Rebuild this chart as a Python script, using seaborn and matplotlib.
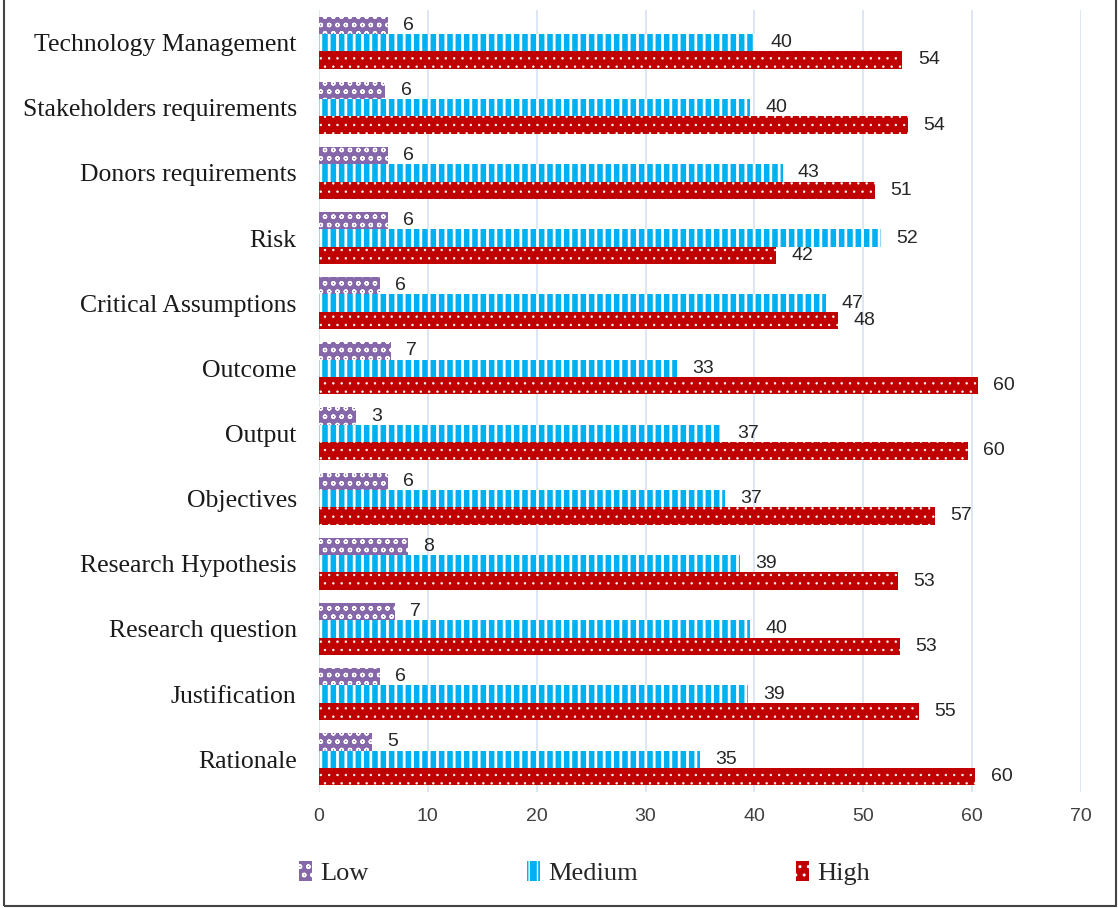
import matplotlib
matplotlib.use("Agg")
import matplotlib.pyplot as plt
import pandas as pd
import seaborn as sns
from matplotlib.patches import Patch, Rectangle

# Survey scores per proposal component, by rating level
categories = [
    "Technology Management", "Stakeholders requirements", "Donors requirements",
    "Risk", "Critical Assumptions", "Outcome", "Output", "Objectives",
    "Research Hypothesis", "Research question", "Justification", "Rationale",
]
low = [6.3, 6.1, 6.3, 6.3, 5.6, 6.6, 3.4, 6.3, 8.2, 7.0, 5.6, 4.9]
medium = [40.1, 39.6, 42.6, 51.6, 46.6, 32.9, 37.0, 37.3, 38.7, 39.6, 39.4, 35.0]
high = [53.6, 54.1, 51.1, 42.0, 47.7, 60.5, 59.6, 56.6, 53.2, 53.4, 55.1, 60.3]
levels = ["Low", "Medium", "High"]
x_ticks = [0, 10, 20, 30, 40, 50, 60, 70]

colors = ["#8567AA", "#00B0F0", "#C00000"]
hatches = ["oo", "||", ".."]
hatch_widths = [0.9, 2.0, 0.5]

df = pd.DataFrame({
    "category": categories * 3,
    "value": low + medium + high,
    "level": [lv for lv in levels for _ in categories],
})

sns.set_style("white")
plt.rcParams["hatch.linewidth"] = 1.0
serif = ["Liberation Serif", "DejaVu Serif"]
sans = ["Liberation Sans", "DejaVu Sans"]


def style_patch(p, hatch, hw):
    p.set_hatch(hatch)
    p.set_edgecolor("white")
    p.set_linewidth(0)
    if hasattr(p, "set_hatch_linewidth"):
        p.set_hatch_linewidth(hw)


fig = plt.figure(figsize=(11.18, 9.08), dpi=100)
ax = fig.add_axes([0.2853, 0.128, 0.6816, 0.861])

sns.barplot(
    data=df, y="category", x="value", hue="level", order=categories,
    hue_order=levels, palette=colors, orient="h", width=0.8,
    saturation=1, errorbar=None, legend=False, ax=ax,
)

for cont, hatch, hw in zip(ax.containers, hatches, hatch_widths):
    for bar in cont:
        style_patch(bar, hatch, hw)
        v = bar.get_width()
        yc = bar.get_y() + bar.get_height() / 2
        ax.annotate(f"{v:.0f}", xy=(v, yc), xytext=(11, 0),
                    textcoords="offset points", ha="left", va="center",
                    fontsize=14, family=sans, color="#262626")

ax.set_xlim(0, 70)
ax.set_xticks(x_ticks)
ax.set_xticklabels([str(t) for t in x_ticks], family=sans, fontsize=14,
                   color="#404040")
ax.set_yticks(range(len(categories)))
ax.set_yticklabels(categories, family=serif, fontsize=18.5, color="#1a1a1a")
ax.tick_params(axis="x", length=0, pad=12)
ax.tick_params(axis="y", length=0, pad=16)
ax.set_xlabel("")
ax.set_ylabel("")
ax.grid(axis="x", color="#DCE6F4", linewidth=1.4)
ax.grid(axis="y", visible=False)
ax.set_axisbelow(True)
for s in ax.spines.values():
    s.set_visible(False)

handles = []
for c, h, hw in zip(colors, hatches, hatch_widths):
    p = Patch(facecolor=c)
    style_patch(p, h, hw)
    handles.append(p)
fig.legend(handles, levels, loc="center", bbox_to_anchor=(0.523, 0.0385),
           ncol=3, frameon=False, prop={"family": serif, "size": 19},
           handlelength=0.5, handleheight=0.8, handletextpad=0.3,
           columnspacing=6.0)

fig.patches.append(Rectangle((0.0036, 0.0022), 0.9944, 1.05,
                             transform=fig.transFigure, fill=False,
                             edgecolor="#444444", linewidth=1.5,
                             clip_on=False))

fig.savefig("out.png", dpi=100)
